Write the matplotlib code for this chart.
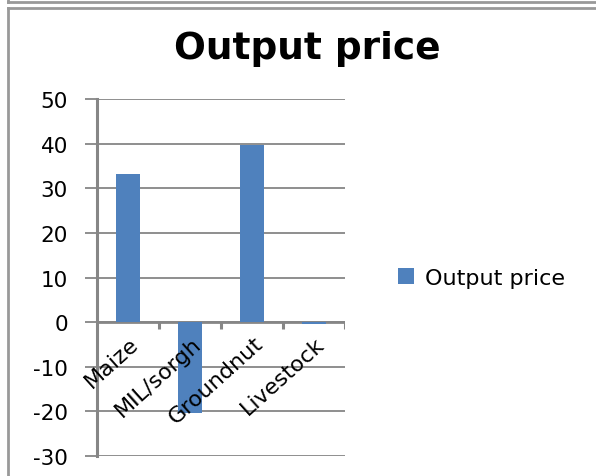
import numpy as np
import matplotlib
matplotlib.use('Agg')
import matplotlib.pyplot as plt
from matplotlib.lines import Line2D

# chart data
categories = ['Maize', 'MIL/sorgh', 'Groundnut', 'Livestock']
output_price = [33.2, -20.3, 39.8, -0.4]
yticks = [-30, -20, -10, 0, 10, 20, 30, 40, 50]

bar_color = '#4f81bd'
grid_color = '#8e8e8e'
axis_color = '#868686'

fig = plt.figure(figsize=(5.96, 4.77), dpi=100)
ax = fig.add_axes([0.1628, 0.0419, 0.416, 0.7484])

x = np.arange(len(categories))
bars = ax.bar(x, output_price, width=0.4, color=bar_color, label='Output price', zorder=5)

ax.set_xlim(-0.5, len(categories) - 0.5)
ax.set_ylim(-30, 50)
ax.set_yticks(yticks)
ax.set_yticklabels([str(v) for v in yticks], fontsize=15.5)
ax.set_xticks([])

# gridlines and axis styling
ax.grid(axis='y', color=grid_color, linewidth=1.4, zorder=1)
for s in ['top', 'right', 'bottom']:
    ax.spines[s].set_visible(False)
ax.spines['left'].set_color(axis_color)
ax.spines['left'].set_linewidth(2.2)
ax.tick_params(axis='y', length=9, width=1.4, color=grid_color, pad=12)

# category axis at zero with tick marks between categories
ax.axhline(0, color=axis_color, linewidth=2.0, zorder=4)
bounds = np.arange(len(categories)) + 0.5
ax.vlines(bounds, -1.6, 0, color=axis_color, linewidth=2.2, zorder=4)

for i, name in enumerate(categories):
    ax.text(i + 0.02, -2.4, name, rotation=42, ha='right', va='top',
            rotation_mode='anchor', fontsize=16, zorder=6)

fig.text(0.515, 0.897, 'Output price', ha='center', va='center',
         fontsize=27, fontweight='bold')

fig.legend(handles=[bars], loc='center left', bbox_to_anchor=(0.635, 0.415),
           frameon=False, fontsize=16, handlelength=0.7, handleheight=0.7,
           handletextpad=0.5)

# outer frame pieces
fig.add_artist(Line2D([8 / 596, 1], [1 - 3 / 477, 1 - 3 / 477], color='#999999', linewidth=2))
fig.add_artist(Line2D([8 / 596, 8 / 596], [1 - 3 / 477, 1], color='#999999', linewidth=2))
fig.add_artist(Line2D([8 / 596, 1], [1 - 9 / 477, 1 - 9 / 477], color='#999999', linewidth=2))
fig.add_artist(Line2D([8 / 596, 8 / 596], [0, 1 - 9 / 477], color='#999999', linewidth=2))

plt.savefig('out.png', dpi=100)
